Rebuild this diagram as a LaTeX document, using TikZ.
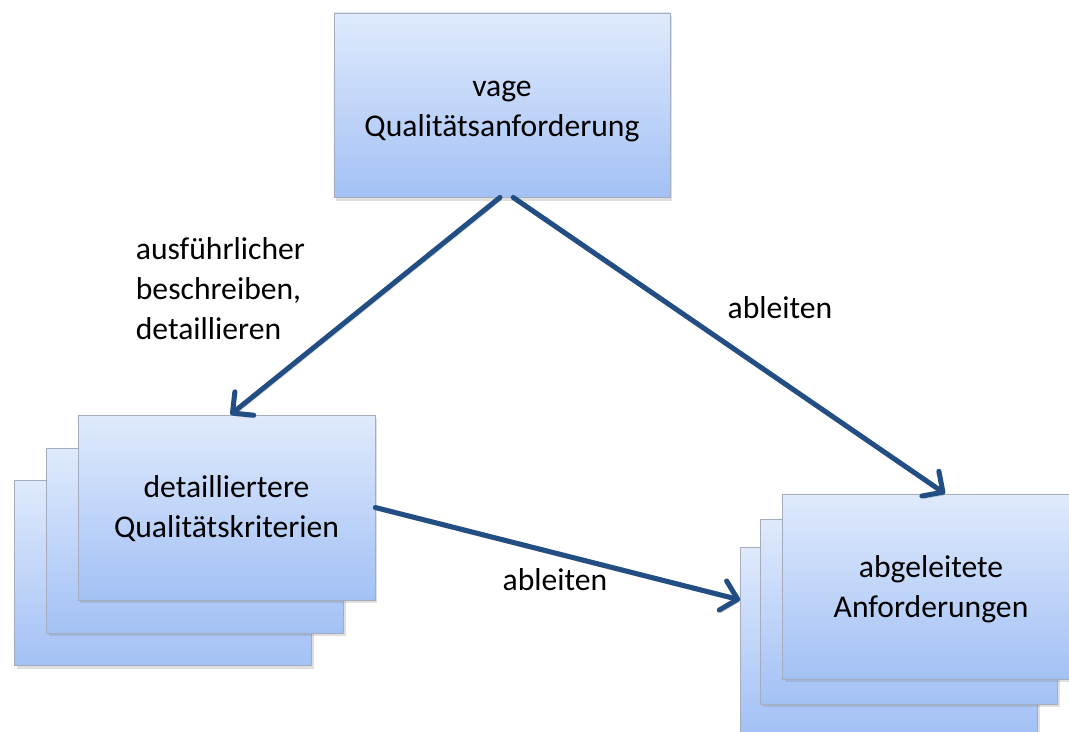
\documentclass[tikz,border=0pt]{standalone}
\usepackage{fontspec}
\setmainfont{Carlito}
\usetikzlibrary{positioning,shadows,arrows.meta}
\definecolor{boxtop}{RGB}{223,234,252}
\definecolor{boxbot}{RGB}{163,193,245}
\definecolor{boxline}{RGB}{165,172,190}
\definecolor{linkblue}{RGB}{35,78,132}

\begin{document}
\begin{tikzpicture}[x=0.025cm,y=-0.025cm,inner sep=0.4mm,
  card/.style={draw=boxline,line width=0.6pt,top color=boxtop,bottom color=boxbot,
    minimum width=7.42cm,minimum height=4.62cm,align=center,
    drop shadow={shadow xshift=1.5pt,shadow yshift=-2.5pt,opacity=0.25}},
  link/.style={draw=linkblue,line width=3.6pt,line cap=round,
    -{Straight Barb[round,length=3.8mm,width=7.5mm]},
    preaction={draw=black,opacity=0.15,transform canvas={xshift=1pt,yshift=-2pt}}},
  txt/.style={font=\fontsize{22.5}{28.5}\selectfont}]

 \useasboundingbox (0,0) rectangle (1069,731);

 % obere Box
 \node[card,txt,minimum width=8.4cm,minimum height=4.6cm] (vage) at (502,105) {\rule{0pt}{20pt}vage\\Qualitätsanforderung};

 % linker Stapel
 \node[card] (kritC) at (163,573) {};
 \node[card] (kritB) at (195,540.5) {};
 \node[card,txt] (krit) at (226.5,507.5) {\rule{0pt}{17pt}detailliertere\\Qualitätskriterien};

 % rechter Stapel
 \node[card] (anfC) at (889,639.5) {};
 \node[card] (anfB) at (909,611.5) {};
 \node[card,txt] (anf) at (931,586.5) {\rule{0pt}{20pt}abgeleitete\\Anforderungen};

 \draw[link] ([xshift=-0.05cm]vage.south) -- ([xshift=0.1cm]krit.north);
 \draw[link] ([xshift=0.28cm]vage.south) -- ([xshift=0.35cm]anf.north);
 \draw[link] (krit.east) -- ([yshift=0.99cm]anfC.west);

 \node[txt,align=left,anchor=west] (lblDetail) at (134,289) {ausführlicher\\beschreiben,\\detaillieren};
 \node[txt] (lblAbl1) at (780,308) {ableiten};
 \node[txt] (lblAbl2) at (555,580) {ableiten};

\end{tikzpicture}
\end{document}
